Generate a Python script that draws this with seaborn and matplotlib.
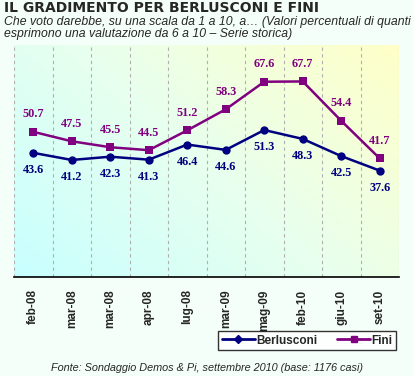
import numpy as np
import pandas as pd
import matplotlib
matplotlib.use("Agg")
import matplotlib.pyplot as plt
import seaborn as sns
from matplotlib.colors import LinearSegmentedColormap

# data
periods = ["feb-08", "mar-08", "mar-08", "apr-08", "lug-08",
           "mar-09", "mag-09", "feb-10", "giu-10", "set-10"]
berlusconi = [43.6, 41.2, 42.3, 41.3, 46.4, 44.6, 51.3, 48.3, 42.5, 37.6]
fini = [50.7, 47.5, 45.5, 44.5, 51.2, 58.3, 67.6, 67.7, 54.4, 41.7]

df = pd.DataFrame({
    "pos": list(range(len(periods))) * 2,
    "valore": berlusconi + fini,
    "serie": ["Berlusconi"] * len(periods) + ["Fini"] * len(periods),
})

navy = "#000080"
purple = "#800080"

sns.set_style("white")
plt.rcParams["font.family"] = ["Liberation Sans", "DejaVu Sans"]

fig = plt.figure(figsize=(4.14, 3.76), dpi=100)
fig.patch.set_facecolor("#F5FFF9")
ax = fig.add_axes([14 / 414, 1 - 277 / 376, 385 / 414, 232 / 376])

# gradient background of the plot area
cmap = LinearSegmentedColormap.from_list("bg", ["#C8FFFF", "#E8FFEE", "#FFFFC8"])
gx, gy = np.meshgrid(np.linspace(0, 1, 200), np.linspace(0, 1, 200))
ax.imshow(0.6 * gx + 0.4 * gy, cmap=cmap, extent=(-0.5, 9.5, 1.7, 80),
          origin="lower", aspect="auto", zorder=0)

sns.lineplot(data=df, x="pos", y="valore", hue="serie", style="serie",
             palette={"Berlusconi": navy, "Fini": purple},
             markers={"Berlusconi": "o", "Fini": "s"},
             dashes=False, linewidth=1.8, markersize=6, markeredgewidth=0,
             ax=ax, zorder=3, legend=False)

for i in range(len(periods)):
    ax.annotate(f"{fini[i]:.1f}", (i, fini[i]), xytext=(0, 12.5),
                textcoords="offset points", ha="center", va="center",
                color=purple, fontsize=8.8, fontweight="bold",
                family="Liberation Serif")
    ax.annotate(f"{berlusconi[i]:.1f}", (i, berlusconi[i]), xytext=(0, -12.5),
                textcoords="offset points", ha="center", va="center",
                color=navy, fontsize=8.8, fontweight="bold",
                family="Liberation Serif")

ax.set_xlim(-0.5, 9.5)
ax.set_ylim(1.7, 80)
for b in np.arange(-0.5, 10, 1):
    ax.axvline(b, color="#B0B0B0", linestyle=(0, (3, 3)), linewidth=0.8, zorder=1)

ax.set_xticks(range(len(periods)))
ax.set_xticklabels(periods, rotation=90, fontsize=8.5, fontweight="bold")
ax.tick_params(axis="x", length=0, pad=9)
ax.set_yticks([])
ax.set_xlabel("")
ax.set_ylabel("")
for side in ["top", "left", "right"]:
    ax.spines[side].set_visible(False)
ax.spines["bottom"].set_color("black")
ax.spines["bottom"].set_linewidth(1.2)

# legend
handles = [
    plt.Line2D([], [], color=navy, marker="D", markersize=4, linewidth=2),
    plt.Line2D([], [], color=purple, marker="s", markersize=5, linewidth=2),
]
leg = fig.legend(handles, ["Berlusconi", "Fini"], loc="center",
                 bbox_to_anchor=(307 / 414, 1 - 340.5 / 376), ncol=2,
                 frameon=True, fancybox=False, edgecolor="black",
                 prop={"weight": "bold", "size": 8.5}, handlelength=2.8,
                 handletextpad=0.1, columnspacing=1.7, borderpad=0.3)
leg.get_frame().set_linewidth(1)
leg.get_frame().set_facecolor("white")

# titles
fig.text(4 / 414, 1 - 1 / 376, "IL GRADIMENTO PER BERLUSCONI E FINI",
         fontsize=10, fontweight="bold", va="top", ha="left",
         family="DejaVu Sans")
fig.text(4 / 414, 1 - 16 / 376,
         "Che voto darebbe, su una scala da 1 a 10, a\u2026 (Valori percentuali di quanti\n"
         "esprimono una valutazione da 6 a 10 \u2013 Serie storica)",
         fontsize=8.8, style="italic", va="top", ha="left", linespacing=1.0)
fig.text(207 / 414, 1 - 368 / 376,
         "Fonte: Sondaggio Demos & Pi, settembre 2010 (base: 1176 casi)",
         fontsize=7.8, style="italic", va="center", ha="center")

fig.savefig("out.png", dpi=100, facecolor=fig.get_facecolor())
